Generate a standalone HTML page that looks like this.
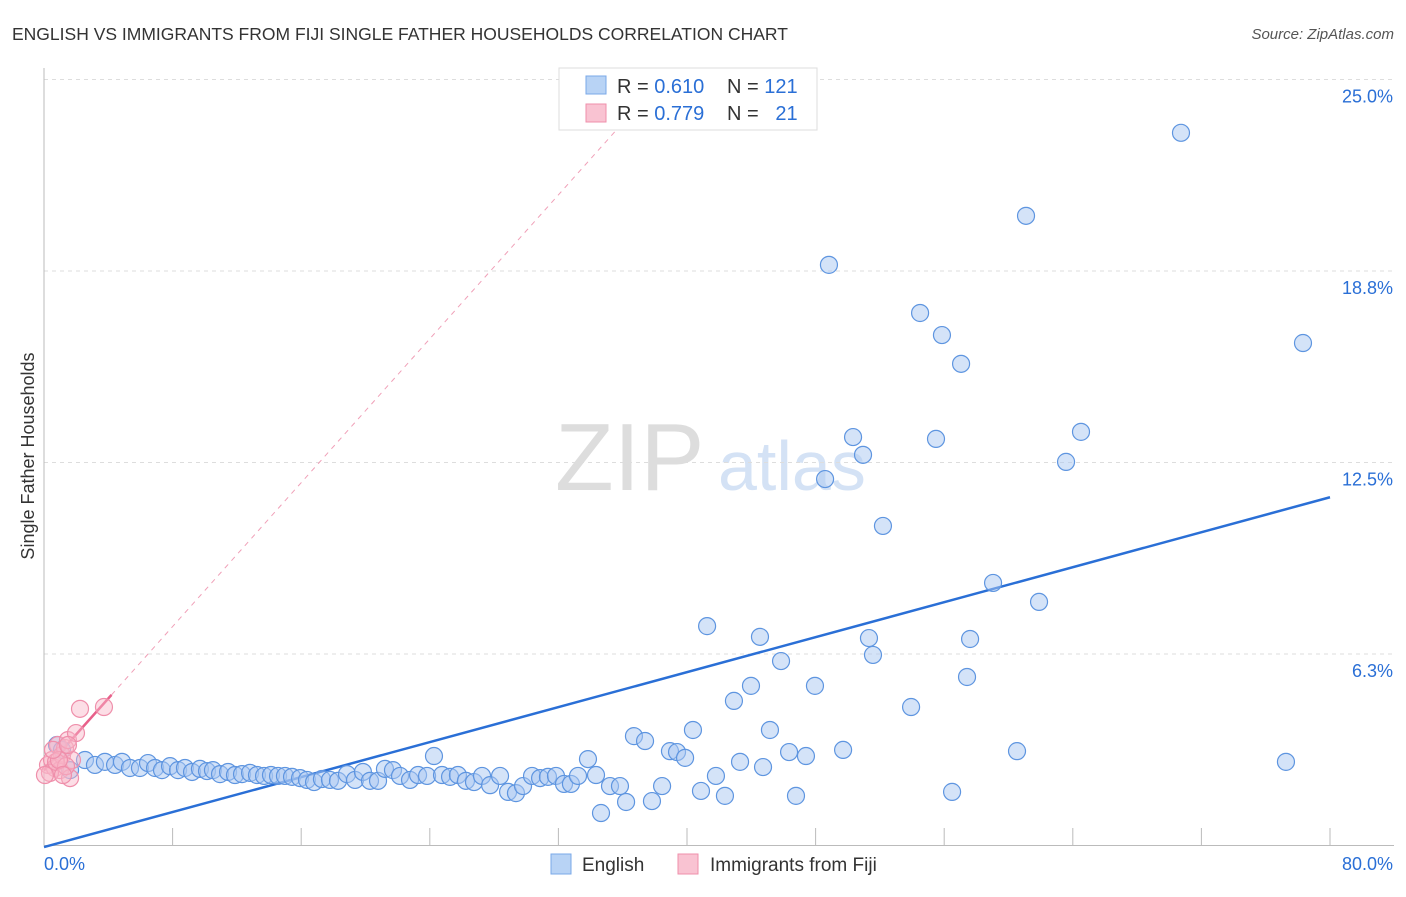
<!DOCTYPE html>
<html><head><meta charset="utf-8"><style>
body{margin:0;background:#fff;font-family:"Liberation Sans",sans-serif;}
svg text{font-family:"Liberation Sans",sans-serif;}
</style></head><body>
<svg id="chart" width="1406" height="892" viewBox="0 0 1406 892">
<text x="12" y="40" font-size="17.5" fill="#333">ENGLISH VS IMMIGRANTS FROM FIJI SINGLE FATHER HOUSEHOLDS CORRELATION CHART</text>
<text x="1394" y="39" font-size="15" fill="#555" font-style="italic" text-anchor="end">Source: ZipAtlas.com</text>
<g>
<text x="555" y="490" font-size="96" fill="#ddd" font-family="Liberation Serif, serif">ZIP</text>
<text x="718" y="490" font-size="70" fill="#d4e2f5">atlas</text>
</g>
<g id="grid"></g>
<g id="axes"></g>
<g id="lines"></g>
<g id="pts"></g>
<text x="-456" y="34" transform="rotate(-90)" font-size="18" fill="#333" text-anchor="middle">Single Father Households</text>
<g>
<rect x="559" y="68" width="258" height="62" fill="#fff" stroke="#ddd"/>
<rect x="586" y="76" width="20" height="18" fill="#b8d3f5" stroke="#7aa8e8"/>
<rect x="586" y="104" width="20" height="18" fill="#f9c3d2" stroke="#ef8fab"/>
<text x="617" y="93" font-size="20" fill="#333">R = <tspan fill="#2a6fd6">0.610</tspan></text>
<text x="727" y="93" font-size="20" fill="#333">N = <tspan fill="#2a6fd6">121</tspan></text>
<text x="617" y="120" font-size="20" fill="#333">R = <tspan fill="#2a6fd6">0.779</tspan></text>
<text x="727" y="120" font-size="20" fill="#333">N = <tspan fill="#2a6fd6">&#160;&#160;21</tspan></text>
</g>
<g>
<rect x="551" y="854" width="20" height="20" fill="#b8d3f5" stroke="#7aa8e8"/>
<text x="582" y="871" font-size="19" fill="#333">English</text>
<rect x="678" y="854" width="20" height="20" fill="#f9c3d2" stroke="#ef8fab"/>
<text x="710" y="871" font-size="19" fill="#333">Immigrants from Fiji</text>
</g>
</svg>
<script>
const xTicks=[0,8,16,24,32,40,48,56,64,72,80];
const yTickVals=[6.25,12.5,18.75,25];
const yTickLabels=["6.3%","12.5%","18.8%","25.0%"];
const xEndLabels=["0.0%","80.0%"];
const englishX=[0.81,1.12,1.62,2.55,3.17,3.79,4.42,4.85,5.35,5.97,6.47,6.91,7.34,7.84,8.34,8.77,9.21,9.70,10.14,10.51,10.95,11.45,11.88,12.32,12.82,13.25,13.69,14.12,14.56,14.99,15.43,15.93,16.36,16.80,17.29,17.79,18.29,18.85,19.35,19.84,20.28,20.78,21.21,21.71,22.15,22.77,23.27,23.83,24.26,24.76,25.26,25.75,26.25,26.75,27.25,27.75,28.37,28.87,29.36,29.80,30.36,30.86,31.35,31.85,32.35,32.78,33.22,33.84,34.34,34.65,35.21,35.83,36.21,36.70,37.39,37.82,38.45,38.94,39.38,39.88,40.37,40.87,41.25,41.80,42.36,42.92,43.30,43.98,44.54,44.73,45.16,45.85,46.35,46.78,47.40,47.96,48.83,48.59,49.71,50.33,50.95,51.32,51.57,52.19,53.94,54.50,55.49,55.86,56.49,57.05,57.42,57.61,59.04,60.53,61.09,61.90,63.58,64.51,70.73,77.26,78.32];
const englishY=[3.28,3.12,2.46,2.79,2.63,2.73,2.63,2.73,2.53,2.53,2.69,2.53,2.46,2.59,2.46,2.53,2.40,2.50,2.43,2.46,2.33,2.40,2.30,2.33,2.37,2.30,2.27,2.30,2.27,2.27,2.24,2.20,2.14,2.07,2.17,2.14,2.11,2.33,2.14,2.40,2.11,2.11,2.50,2.46,2.27,2.14,2.30,2.27,2.92,2.30,2.24,2.30,2.11,2.07,2.27,1.97,2.27,1.75,1.71,1.94,2.27,2.20,2.24,2.27,2.01,2.01,2.27,2.82,2.30,1.06,1.94,1.94,1.42,3.57,3.41,1.45,1.94,3.08,3.05,2.86,3.77,1.78,7.16,2.27,1.62,4.72,2.73,5.21,6.81,2.56,3.77,6.02,3.05,1.62,2.92,5.21,18.95,11.96,3.12,13.33,12.75,6.77,6.22,10.43,4.52,17.38,13.27,16.66,1.75,15.72,5.50,6.74,8.57,3.08,20.55,7.95,12.52,13.50,23.26,2.73,16.40];
const fijiX=[0.25,0.50,0.68,0.87,1.00,1.12,1.31,1.49,1.62,1.74,1.99,2.24,3.73,0.37,0.75,1.37,0.93,1.18,0.56,0.06,1.49];
const fijiY=[2.63,2.79,2.53,3.28,2.46,2.95,3.18,3.44,2.20,2.79,3.67,4.46,4.52,2.37,2.73,2.59,2.79,2.30,3.12,2.30,3.28];
const englishFit=[-0.05,0.1427];
const fijiFit=[2.45,0.587];

const NS="http://www.w3.org/2000/svg";
const X0=44,X1=1330,Y0=845.5,YPER=30.64;
const sx=v=>X0+(v-0)/80*(X1-X0);
const sy=v=>Y0-v*YPER;
function mk(tag,attrs,parent){const e=document.createElementNS(NS,tag);for(const k in attrs)e.setAttribute(k,attrs[k]);parent.appendChild(e);return e;}
const grid=document.getElementById('grid'),axes=document.getElementById('axes'),lines=document.getElementById('lines'),pts=document.getElementById('pts');
yTickVals.forEach((v,i)=>{
  const l=mk('line',{x1:X0,x2:1394,y1:sy(v),y2:sy(v),stroke:'#ddd','stroke-dasharray':'4 4'},grid);
  
  
  const t=mk('text',{x:1393,y:sy(v)+23,'font-size':18,fill:'#2a6fd6','text-anchor':'end'},axes);
  t.textContent=yTickLabels[i];
  
  
});
const ya=mk('line',{x1:X0,x2:X0,y1:68,y2:Y0,stroke:'#bbb'},axes);


const xa=mk('line',{x1:X0,x2:1394,y1:Y0,y2:Y0,stroke:'#bbb'},axes);


xTicks.forEach(v=>{
  const t=mk('line',{x1:sx(v),x2:sx(v),y1:828,y2:Y0,stroke:'#bbb'},axes);
  
  
});
[[0,'start',44],[80,'end',1393]].forEach((a,i)=>{
  const t=mk('text',{x:a[2],y:870,'font-size':18,fill:'#2a6fd6','text-anchor':a[1]},axes);
  t.textContent=xEndLabels[i];
  
  
});
englishX.forEach((x,i)=>{
  const c=mk('circle',{cx:sx(x),cy:sy(englishY[i]),r:8.5,fill:'rgba(170,200,242,0.5)',stroke:'#5e95e0','stroke-width':1.2},pts);
  
  
});
fijiX.forEach((x,i)=>{
  const c=mk('circle',{cx:sx(x),cy:sy(fijiY[i]),r:8.5,fill:'rgba(248,182,200,0.45)',stroke:'#ef8fab','stroke-width':1.2},pts);
  
  
});
const bl=mk('line',{x1:sx(0),y1:sy(englishFit[0]),x2:sx(80),y2:sy(englishFit[0]+englishFit[1]*80),stroke:'#2a6fd6','stroke-width':2.5},lines);


const pd=mk('line',{x1:sx(4.2),y1:sy(fijiFit[0]+fijiFit[1]*4.2),x2:sx(35.5),y2:sy(fijiFit[0]+fijiFit[1]*35.5),stroke:'#f0a0b8','stroke-width':1,'stroke-dasharray':'5 5'},lines);


const pl=mk('line',{x1:sx(0),y1:sy(fijiFit[0]),x2:sx(4.2),y2:sy(fijiFit[0]+fijiFit[1]*4.2),stroke:'#e8608a','stroke-width':2.5},lines);


</script>
</body></html>
